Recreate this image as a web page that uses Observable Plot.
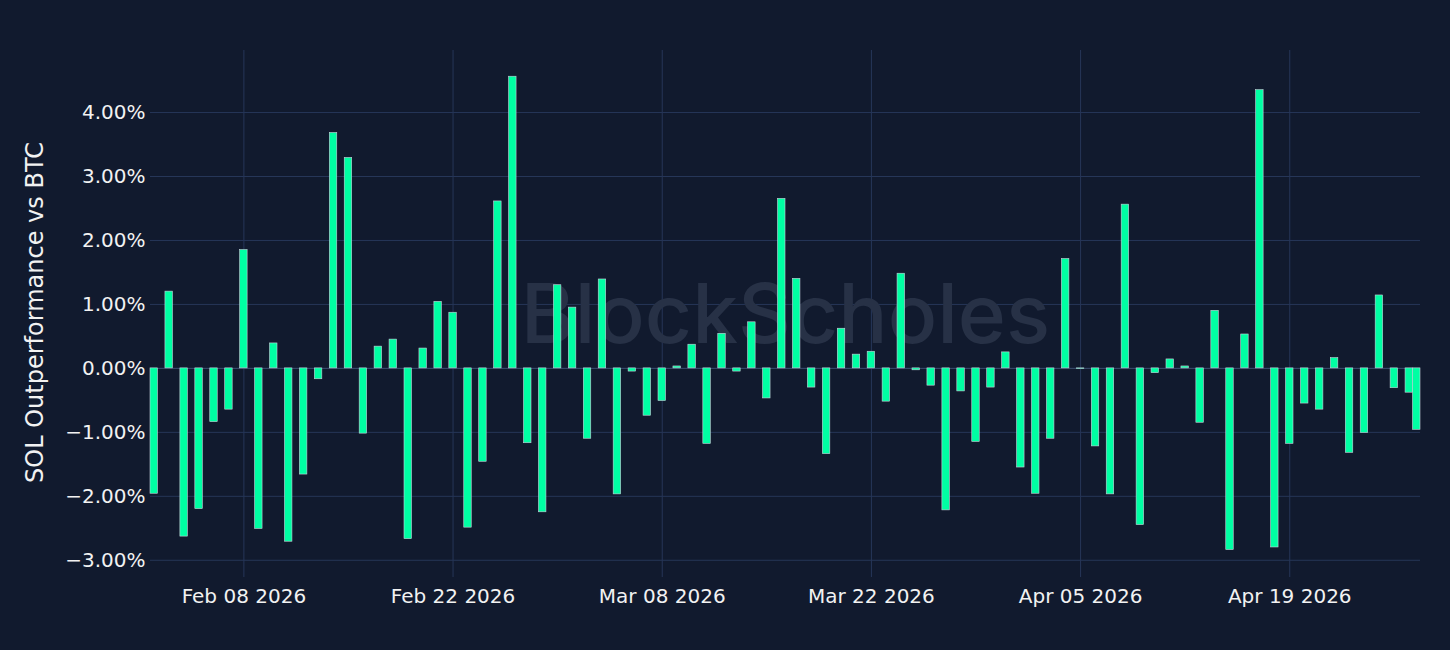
<!DOCTYPE html>
<html>
<head>
<meta charset="utf-8">
<script src="https://cdn.jsdelivr.net/npm/d3@7"></script>
<script src="https://cdn.jsdelivr.net/npm/@observablehq/plot@0.6"></script>
<style>
  html, body { margin: 0; padding: 0; background: #111a2e; }
  #chart { width: 1450px; height: 650px; }
</style>
</head>
<body>
<div id="chart"></div>
<script>
// Daily SOL outperformance vs BTC (%), Feb 02 2026 .. Apr 27 2026, plus an intraday point on Apr 27
const startDay = "2026-02-02";
const endDayExclusive = "2026-04-28";
const extraTimestamp = "2026-04-27T12:00:00Z";

const febValues = [-1.96, 1.20, -2.63, -2.20, -0.84, -0.645, 1.85, -2.51, 0.39, -2.71, -1.66, -0.17, 3.68, 3.29,
  -1.02, 0.34, 0.45, -2.67, 0.31, 1.04, 0.87, -2.49, -1.46, 2.61, 4.56, -1.17, -2.25];
const marValues = [1.30, 0.95, -1.10, 1.39, -1.97, -0.05, -0.74, -0.51, 0.03, 0.37, -1.18, 0.54, -0.05, 0.72,
  -0.47, 2.65, 1.40, -0.30, -1.34, 0.62, 0.215, 0.26, -0.52, 1.48, -0.03, -0.27, -2.22, -0.36, -1.15, -0.30, 0.25];
const aprValues = [-1.55, -1.96, -1.10, 1.71, -0.01, -1.22, -1.97, 2.56, -2.45, -0.075, 0.14, 0.03, -0.85, 0.90,
  -2.84, 0.53, 4.35, -2.80, -1.18, -0.55, -0.645, 0.16, -1.32, -1.01, 1.14, -0.31, -0.38];
const extraValue = -0.96;

const xTickDates = ["2026-02-08", "2026-02-22", "2026-03-08", "2026-03-22", "2026-04-05", "2026-04-19"];
const yTickValues = [-3, -2, -1, 0, 1, 2, 3, 4];
const yTitle = "SOL Outperformance vs BTC";
const watermark = "BlockScholes";

// build table
const days = d3.utcDay.range(new Date(startDay + "T00:00:00Z"), new Date(endDayExclusive + "T00:00:00Z"));
const allValues = [...febValues, ...marValues, ...aprValues];
const data = days.map((d, i) => ({date: d, value: allValues[i]}));
data.push({date: new Date(extraTimestamp), value: extraValue});

const halfBar = 6 * 3600 * 1000; // bars span a quarter day each side
const xDomain = [new Date(+data[0].date - halfBar), new Date(+data[data.length - 1].date + halfBar)];
const xTicks = xTickDates.map(s => new Date(s + "T00:00:00Z"));

const grid = "#263658";
const textColor = "#f2f2f2";
const fmtPct = d => (d < 0 ? "\u2212" : "") + Math.abs(d).toFixed(2) + "%";

const chart = Plot.plot({
  width: 1450,
  height: 650,
  marginLeft: 150,
  marginRight: 30,
  marginTop: 50,
  marginBottom: 80,
  style: {background: "#111a2e", color: textColor, fontFamily: "'DejaVu Sans', Verdana, sans-serif"},
  x: {type: "utc", domain: xDomain},
  y: {domain: [-3.16, 4.97]},
  marks: [
    Plot.ruleY(yTickValues, {stroke: grid, strokeWidth: 1}),
    Plot.ruleX(xTicks, {stroke: grid, strokeWidth: 1}),
    Plot.text([watermark], {text: d => d, frameAnchor: "middle", dy: 6, fontSize: 82, fontFamily: "Inter", fontWeight: 500, fill: "#273146"}),
    Plot.ruleY([0], {stroke: "#3a4a6a", strokeWidth: 1}),
    Plot.rectY(data, {
      x1: d => new Date(+d.date - halfBar),
      x2: d => new Date(+d.date + halfBar),
      y1: 0,
      y2: "value",
      fill: "#00ffa3",
      stroke: "#c9d2dc",
      strokeWidth: 0.6
    }),
    Plot.axisX({ticks: xTicks, tickFormat: d3.utcFormat("%b %d %Y"), tickSize: 7, tickPadding: 11,
      stroke: grid, fontSize: 20, fill: textColor, label: null}),
    Plot.axisY({ticks: yTickValues, tickFormat: fmtPct, tickSize: 0, tickPadding: 5,
      fontSize: 20, fill: textColor, label: null}),
    Plot.text([yTitle], {text: d => d, frameAnchor: "left", textAnchor: "middle", dx: -115, dy: 2, rotate: -90, fontSize: 24, fill: textColor})
  ]
});
document.getElementById("chart").appendChild(chart);
</script>
</body>
</html>
